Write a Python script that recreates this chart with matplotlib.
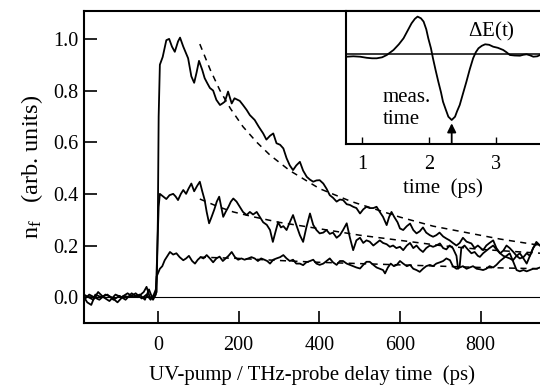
import matplotlib
matplotlib.use("Agg")
import matplotlib.pyplot as plt

plt.rcParams['font.family'] = ['Liberation Serif', 'DejaVu Serif']
plt.rcParams['mathtext.fontset'] = 'custom'
plt.rcParams['mathtext.rm'] = 'Liberation Serif'
plt.rcParams['mathtext.it'] = 'Liberation Serif'

# ---------------- data ----------------
top_t = [-183, -175, -165, -155, -140, -125, -110, -95, -80, -65, -50, -35, -28, -20, -10, -3, 0, 2, 5, 12,
         21, 28, 35, 42, 50, 55, 63, 75, 83, 90, 96, 102, 110, 116, 122, 129, 137, 145, 154, 160,
         166, 174, 183, 190, 195, 203, 211, 220, 228, 240, 250, 261, 269, 278, 286, 294, 303, 311, 319, 327,
         335, 343, 352, 360, 369, 377, 385, 393, 401, 410, 418, 426, 434, 443, 451, 459, 468, 476, 484, 492,
         501, 509, 517, 525, 534, 542, 550, 558, 567, 573, 579, 586, 594, 600, 608, 617, 625, 633, 641, 649,
         657, 665, 674, 682, 690, 698, 707, 715, 723, 731, 740, 748, 756, 765, 777, 785, 793, 806, 814, 822,
         831, 839, 848, 856, 864, 872, 881, 889, 897, 906, 914, 922, 930, 938, 947]
top_y = [0.0, -0.02, -0.03, 0.01, 0.0, 0.01, -0.01, 0.005, -0.01, 0.015, 0.0, 0.02, 0.04, 0.0, 0.0, 0.02, 0.3, 0.7, 0.90, 0.93,
         0.995, 1.0, 0.97, 0.95, 0.99, 1.005, 0.97, 0.925, 0.855, 0.83, 0.87, 0.915, 0.88, 0.848, 0.83, 0.81, 0.80, 0.764, 0.744, 0.75,
         0.757, 0.796, 0.75, 0.77, 0.766, 0.76, 0.744, 0.725, 0.705, 0.686, 0.66, 0.634, 0.61, 0.625, 0.634, 0.596, 0.59, 0.576, 0.538, 0.51,
         0.492, 0.51, 0.524, 0.49, 0.466, 0.455, 0.447, 0.452, 0.453, 0.44, 0.42, 0.395, 0.385, 0.37, 0.378, 0.376, 0.36, 0.357, 0.35, 0.345,
         0.324, 0.34, 0.35, 0.345, 0.345, 0.35, 0.33, 0.311, 0.279, 0.31, 0.33, 0.31, 0.29, 0.266, 0.26, 0.275, 0.285, 0.26, 0.247, 0.255,
         0.27, 0.25, 0.24, 0.234, 0.24, 0.25, 0.235, 0.227, 0.22, 0.21, 0.20, 0.21, 0.23, 0.215, 0.208, 0.19, 0.2, 0.182, 0.2, 0.21,
         0.22, 0.19, 0.17, 0.18, 0.2, 0.19, 0.175, 0.16, 0.17, 0.15, 0.13, 0.16, 0.19, 0.208, 0.2]

mid_t = [-183, -172, -160, -148, -135, -120, -105, -90, -75, -60, -45, -32, -22, -12, -5, -2, 2, 5, 13, 21,
         29, 38, 44, 50, 57, 63, 70, 76, 83, 90, 97, 104, 110, 116, 121, 127, 133, 140, 146, 152,
         157, 162, 168, 175, 181, 187, 195, 203, 211, 220, 228, 236, 245, 253, 261, 270, 278, 285, 291, 298,
         305, 311, 319, 327, 335, 343, 352, 360, 368, 377, 385, 393, 401, 410, 418, 426, 434, 443, 451, 459,
         468, 476, 484, 492, 501, 509, 517, 525, 534, 542, 550, 558, 567, 575, 583, 591, 600, 608, 617, 625,
         633, 641, 649, 657, 665, 674, 682, 690, 699, 707, 715, 723, 731, 740, 744, 748, 752, 760, 768, 777,
         785, 793, 798, 806, 814, 822, 831, 839, 848, 856, 864, 872, 880, 889, 897, 906, 914, 922, 930, 938, 947]
mid_y = [0.01, 0.0, -0.01, 0.02, 0.0, -0.015, 0.01, 0.0, 0.015, 0.0, 0.01, -0.01, 0.03, -0.01, 0.01, 0.15, 0.35, 0.40, 0.39, 0.38,
         0.395, 0.40, 0.39, 0.376, 0.40, 0.415, 0.40, 0.42, 0.44, 0.41, 0.43, 0.447, 0.41, 0.376, 0.33, 0.286, 0.31, 0.34, 0.37, 0.389,
         0.35, 0.311, 0.33, 0.35, 0.37, 0.382, 0.37, 0.35, 0.33, 0.318, 0.33, 0.32, 0.33, 0.31, 0.29, 0.28, 0.26, 0.214, 0.25, 0.29,
         0.27, 0.275, 0.26, 0.29, 0.318, 0.28, 0.24, 0.214, 0.27, 0.324, 0.28, 0.26, 0.247, 0.25, 0.26, 0.245, 0.25, 0.23, 0.24, 0.26,
         0.286, 0.23, 0.182, 0.22, 0.23, 0.21, 0.22, 0.215, 0.2, 0.21, 0.22, 0.21, 0.205, 0.195, 0.2, 0.19, 0.195, 0.182, 0.2, 0.21,
         0.19, 0.2, 0.185, 0.175, 0.19, 0.2, 0.195, 0.2, 0.208, 0.19, 0.185, 0.2, 0.19, 0.16, 0.11, 0.12, 0.19, 0.2, 0.185, 0.17,
         0.175, 0.16, 0.156, 0.17, 0.18, 0.19, 0.2, 0.185, 0.17, 0.16, 0.155, 0.15, 0.143, 0.16, 0.15, 0.155, 0.17, 0.16, 0.19, 0.214, 0.2]

bot_t = [-183, -170, -158, -145, -130, -115, -100, -85, -70, -55, -40, -28, -18, -10, -5, -3, 5, 11, 17, 24,
         30, 38, 46, 54, 63, 70, 77, 85, 92, 99, 106, 113, 121, 129, 137, 145, 153, 161, 168, 175,
         183, 191, 199, 207, 215, 224, 232, 240, 248, 256, 264, 271, 278, 286, 294, 303, 311, 319, 327, 335,
         343, 352, 360, 368, 377, 385, 393, 401, 410, 418, 426, 434, 443, 451, 459, 468, 476, 484, 492, 501,
         509, 517, 525, 534, 542, 550, 558, 563, 570, 577, 585, 592, 600, 608, 617, 625, 633, 641, 649, 657,
         665, 674, 682, 690, 699, 707, 715, 724, 731, 740, 748, 756, 765, 773, 781, 790, 798, 806, 814, 822,
         831, 839, 848, 856, 864, 872, 880, 889, 897, 906, 914, 922, 930, 938, 947]
bot_y = [-0.01, 0.01, 0.0, -0.01, 0.01, 0.0, -0.02, 0.005, 0.0, 0.015, -0.005, 0.01, -0.01, 0.01, 0.03, 0.08, 0.11, 0.12, 0.143, 0.16,
         0.175, 0.165, 0.17, 0.155, 0.143, 0.15, 0.16, 0.14, 0.13, 0.145, 0.155, 0.15, 0.163, 0.15, 0.135, 0.15, 0.157, 0.14, 0.15, 0.16,
         0.175, 0.155, 0.145, 0.15, 0.145, 0.15, 0.155, 0.15, 0.14, 0.15, 0.145, 0.14, 0.13, 0.145, 0.15, 0.155, 0.163, 0.15, 0.14, 0.145,
         0.13, 0.13, 0.124, 0.135, 0.14, 0.145, 0.13, 0.125, 0.13, 0.14, 0.15, 0.135, 0.125, 0.14, 0.14, 0.13, 0.125, 0.12, 0.115, 0.111,
         0.125, 0.137, 0.137, 0.125, 0.115, 0.11, 0.105, 0.092, 0.115, 0.13, 0.12, 0.125, 0.14, 0.13, 0.12, 0.125, 0.11, 0.105, 0.098, 0.11,
         0.12, 0.125, 0.12, 0.13, 0.135, 0.14, 0.15, 0.143, 0.12, 0.11, 0.115, 0.12, 0.11, 0.115, 0.12, 0.11, 0.108, 0.105, 0.11, 0.12,
         0.115, 0.125, 0.14, 0.15, 0.16, 0.17, 0.14, 0.105, 0.1, 0.105, 0.1, 0.105, 0.11, 0.11, 0.115]

fit_top_t = [104, 130, 154, 180, 211, 245, 278, 327, 401, 480, 600, 682, 765, 848, 950]
fit_top_y = [0.98, 0.88, 0.80, 0.73, 0.66, 0.60, 0.55, 0.49, 0.42, 0.37, 0.31, 0.275, 0.25, 0.225, 0.20]
fit_mid_t = [104, 150, 187, 240, 300, 400, 500, 600, 700, 800, 950]
fit_mid_y = [0.38, 0.35, 0.33, 0.31, 0.29, 0.265, 0.24, 0.22, 0.20, 0.185, 0.17]
fit_bot_t = [104, 200, 300, 400, 500, 600, 700, 800, 950]
fit_bot_y = [0.155, 0.15, 0.142, 0.135, 0.13, 0.125, 0.12, 0.115, 0.11]

# inset: THz field transient
ins_t = [0.77, 0.87, 0.97, 1.07, 1.15, 1.22, 1.30, 1.37, 1.47, 1.55, 1.62, 1.68, 1.74, 1.79, 1.83, 1.88, 1.92, 1.96, 1.99, 2.03,
         2.06, 2.10, 2.14, 2.18, 2.21, 2.25, 2.29, 2.34, 2.39, 2.42, 2.46, 2.51, 2.56, 2.61, 2.66, 2.70, 2.74, 2.79, 2.84, 2.90,
         2.96, 3.03, 3.11, 3.16, 3.21, 3.28, 3.36, 3.41, 3.46, 3.51, 3.56, 3.62, 3.66]
ins_v = [-0.24, -0.2, -0.24, -0.35, -0.4, -0.4, -0.3, -0.07, 0.43, 1.0, 1.6, 2.35, 3.1, 3.55, 3.77, 3.6, 3.27, 2.5, 1.6, 0.6,
         -0.4, -1.6, -2.74, -3.8, -4.74, -5.5, -6.24, -6.57, -6.24, -5.7, -5.07, -3.9, -2.74, -1.5, -0.4, 0.2, 0.6, 0.85, 1.0, 0.95,
         0.76, 0.65, 0.43, 0.2, -0.07, -0.12, -0.14, -0.05, 0.0, -0.1, -0.24, -0.2, -0.07]

x_ticks = [0, 200, 400, 600, 800]
y_ticks = [0.0, 0.2, 0.4, 0.6, 0.8, 1.0]
ins_ticks = [1, 2, 3]
meas_time = 2.34

# ---------------- figure ----------------
fig = plt.figure(figsize=(5.4, 3.85), dpi=100)
ax = fig.add_axes([84/540, 62/385, 456/540, 312/385])

lw = 1.3
ax.axhline(0, color='black', lw=0.8)
for t, y in [(top_t, top_y), (mid_t, mid_y), (bot_t, bot_y)]:
    ax.plot(t, y, color='black', lw=lw)
for t, y in [(fit_top_t, fit_top_y), (fit_mid_t, fit_mid_y), (fit_bot_t, fit_bot_y)]:
    ax.plot(t, y, color='black', lw=1.1, dashes=(4, 3.5))

ax.set_xlim(-183, 947)
ax.set_ylim(-0.1, 1.108)
ax.set_xticks(x_ticks)
ax.set_yticks(y_ticks)
ax.set_yticklabels([f"{v:.1f}" for v in y_ticks])
ax.tick_params(direction='in', length=9, width=1.2, labelsize=14.5)
ax.tick_params(axis='x', pad=9)
ax.tick_params(axis='y', pad=4)
ax.spines['right'].set_visible(False)
for s in ['left', 'bottom', 'top']:
    ax.spines[s].set_linewidth(1.5)
ax.set_xlabel('UV-pump / THz-probe delay time  (ps)', fontsize=15, labelpad=8)
ax.set_ylabel(r'n$_\mathrm{f}$   (arb. units)', fontsize=17.5, labelpad=6)

# inset
ax2 = fig.add_axes([346/540, 241/385, 194/540, 133/385])
ax2.axhline(0, color='black', lw=1.1)
ax2.plot(ins_t, ins_v, color='black', lw=lw)
ax2.set_xlim(0.76, 3.66)
ax2.set_ylim(-8.97, 4.33)
ax2.set_yticks([])
ax2.set_xticks(ins_ticks)
ax2.tick_params(direction='in', length=5, width=1.0, labelsize=14.5, pad=8)
ax2.spines['right'].set_visible(False)
for s in ['left', 'bottom', 'top']:
    ax2.spines[s].set_linewidth(1.5)
ax2.set_xlabel('time  (ps)', fontsize=15, labelpad=3)
ax2.text(2.58, 2.3, r'$\Delta$E(t)', fontsize=15, ha='left', va='center')
ax2.text(1.31, -4.3, 'meas.', fontsize=15, ha='left', va='center')
ax2.text(1.31, -6.5, 'time', fontsize=15, ha='left', va='center')
ax2.annotate('', xy=(meas_time, -6.9), xytext=(meas_time, -8.97),
             arrowprops=dict(arrowstyle='-|>', color='black', lw=1.3, mutation_scale=13,
                             shrinkA=0, shrinkB=0))

fig.savefig('out.png', dpi=100)
